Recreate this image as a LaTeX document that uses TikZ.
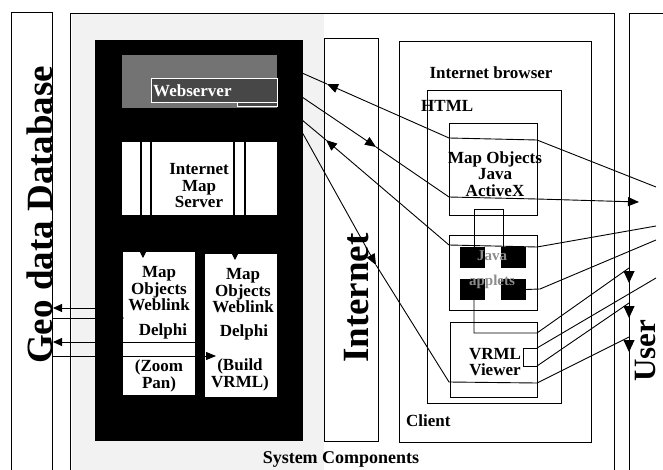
\documentclass[tikz,border=0pt]{standalone}
\usepackage{fontspec}
\setmainfont{Liberation Serif}
\usetikzlibrary{arrows.meta}
\tikzset{
  box/.style={draw, line width=0.9pt, inner sep=0pt, outer sep=0pt, anchor=north west},
  lbl/.style={font=\fontsize{17}{16.5}\selectfont\bfseries, align=center, inner sep=0pt},
  big/.style={font=\fontsize{37}{37}\selectfont\bfseries, inner sep=0pt, rotate=90, anchor=base west},
  wire/.style={line width=0.9pt},
  arr/.style={wire, -{Triangle[length=11pt,width=9pt]}},
  darr/.style={wire, -{Triangle[length=12pt,width=11pt]}},
  sarr/.style={wire, -{Triangle[length=9pt,width=8pt]}},
  tarr/.style={wire, -{Triangle[length=6pt,width=6pt]}},
  sq/.style={box, draw=none, fill=black, minimum width=25pt, minimum height=21pt},
}
\begin{document}
\begin{tikzpicture}[x=1pt,y=-1pt]
\useasboundingbox (0,0) rectangle (663,470);
\clip (0,0) rectangle (663,470);
\fill[white] (0,0) rectangle (663,470);
\fill[black!5] (72,14) rectangle (324,470);

% outer columns
\node[box, minimum width=41pt, minimum height=470pt] (db) at (11,12) {};
\node[box, minimum width=544pt, minimum height=470pt] (sys) at (70,13) {};
\node[box, minimum width=60pt, minimum height=470pt] (usr) at (629,13) {};
\node[big] (dbt) at (52,364) {Geo data Database};
\node[big, font=\fontsize{31}{31}\selectfont\bfseries] (usrt) at (655,382) {User};

% server block
\node[box, fill=black, minimum width=207pt, minimum height=400pt] (bb) at (95,40) {};
\node[box, draw=none, fill=black!55, minimum width=155pt, minimum height=53pt] (ws) at (122,55) {};
\node[box, draw=white!70, line width=0.6pt, fill=black!72, minimum width=126pt, minimum height=24pt] (wsin) at (151,78) {};
\node[box, draw=white!70, line width=0.6pt, fill=black!72, minimum width=40pt, minimum height=4pt] (wsmall) at (237,102) {};
\node[lbl, text=white, anchor=west] (wst) at (153,91) {Webserver};

\node[box, draw=none, fill=white, minimum width=155pt, minimum height=73pt] (ims) at (122,142) {};
\foreach \xx in {19,29,112,123}
  \draw[line width=1.6pt] ([xshift=\xx pt]ims.north west) -- ([xshift=\xx pt]ims.south west);
\node[lbl] (imst) at (199,186) {Internet\\Map\\Server};

\node[box, draw=none, fill=white, minimum width=72pt, minimum height=143pt] (wl1) at (123,252) {};
\node[box, draw=none, fill=white, minimum width=72pt, minimum height=143pt] (wl2) at (205,254) {};
\node[lbl] (wl1t) at (159,289) {Map\\Objects\\Weblink};
\node[lbl] (wl1d) at (163,331) {Delphi};
\node[lbl] (wl1z) at (159,376) {(Zoom\\Pan)};
\node[lbl] (wl2t) at (243,291) {Map\\Objects\\Weblink};
\node[lbl] (wl2d) at (244,332) {Delphi};
\node[lbl] (wl2b) at (240,375) {(Build\\VRML)};

% internet column
\node[box, fill=white, minimum width=54pt, minimum height=403pt] (inet) at (324,38) {};
\node[big] (inett) at (368,363) {Internet};

% client
\node[box, fill=white, minimum width=192pt, minimum height=401pt] (cl) at (399,41) {};
\node[lbl, anchor=west] (clt) at (406,421) {Client};
\node[lbl] (brt) at (491,73) {Internet browser};
\node[box, minimum width=134pt, minimum height=313pt] (html) at (427,90) {};
\node[lbl, anchor=west] (htmlt) at (421,106) {HTML};

\node[box, fill=white, minimum width=88pt, minimum height=92pt] (mo) at (449,123) {};
\node[lbl] (mot) at (495,174) {Map Objects\\Java\\ActiveX};
\node[box, fill=white, minimum width=88pt, minimum height=75pt] (ja) at (449,235) {};
\node[box, fill=white, minimum width=87pt, minimum height=75pt] (vr) at (450,322) {};
\node[box, minimum width=14pt, minimum height=18pt] (vs) at (523,348) {};
\node[lbl] (vrt) at (495,362) {VRML\\Viewer};

% connector between ActiveX and applets
\coordinate (k1) at (474,247);
\coordinate (k2) at (474,209);
\coordinate (k3) at (503,209);
\coordinate (k4) at (503,247);
\draw[wire] (k1) -- (k2) -- (k3) -- (k4);

% wires from webserver
\coordinate (w1) at (302,73);
\coordinate (w2) at (302,97);
\coordinate (w3) at (302,120);
\coordinate (w4) at (302,132);
\coordinate (m1) at (327,84);
\coordinate (m2) at (376,147);
\coordinate (m3) at (326,140);
\coordinate (m4) at (376,265);
\coordinate (a1) at (449,138);
\coordinate (b1) at (537,140);
\coordinate (u1) at (656,187);
\coordinate (a2) at (449,197);
\coordinate (b2) at (537,199);
\coordinate (u2) at (639,202);
\coordinate (a3) at (449,245);
\coordinate (b3) at (537,247);
\coordinate (u3) at (656,226);
\coordinate (a4) at (449,382);
\coordinate (b4) at (537,383);
\coordinate (e4) at (629,337);
\coordinate (t4) at (629,352);

\draw[arr] (u1) -- (b1) -- (a1) -- (m1);
\draw[wire] (m1) -- (w1);
\draw[arr] (w2) -- (m2);
\draw[arr] (m2) -- (a2) -- (b2) -- (u2);
\draw[arr] (u3) -- (b3) -- (a3) -- (m3);
\draw[wire] (m3) -- (w3);
\draw[arr] (w4) -- (m4);
\draw[wire] (m4) -- (a4) -- (b4) -- (e4);
\draw[darr] (e4) -- (t4);

% applet squares
\node[sq] (sq1) at (460,247) {};
\node[sq] (sq2) at (501,247) {};
\node[sq] (sq3) at (460,279) {};
\node[sq] (sq4) at (501,279) {};
\node[lbl, text=black!45, font=\fontsize{15}{25}\selectfont\bfseries] (jat) at (492,270) {Java\\applets};

% wires from applets and VRML viewer to user
\coordinate (d1) at (540,289);
\coordinate (d2) at (656,240);
\draw[wire] (sq4.east) -- (d1) -- (d2);
\coordinate (e1) at (474,333);
\coordinate (e2) at (537,333);
\coordinate (e3) at (629,268);
\coordinate (e5) at (629,283);
\draw[wire] (sq3.south -| e1) -- (e1) -- (e2) -- (e3);
\draw[darr] (e3) -- (e5);
\coordinate (f2) at (656,278);
\draw[wire] (vs.north east) -- (f2);
\coordinate (g2) at (629,303);
\coordinate (g3) at (629,318);
\draw[wire] (vs.south east) -- (g2);
\draw[darr] (g2) -- (g3);

% database links
\coordinate (l1) at (53,308);
\coordinate (l2) at (53,318);
\coordinate (l3) at (53,342);
\coordinate (l4) at (53,356);
\coordinate (r2) at (124,318);
\coordinate (r4) at (216,356);
\draw[sarr] (wl1.west |- l1) -- (l1);
\draw[wire, -{Triangle[length=4pt,width=5pt]}] (l2) -- (r2);
\draw[sarr] (wl2.west |- l3) -- (l3);
\draw[wire, -{Triangle[length=10pt,width=8pt]}] (l4) -- (r4);

% server internal arrows
\coordinate (i1) at (143,258);
\coordinate (i2) at (235,260);
\draw[tarr] (ims.south -| i1) -- (i1);
\draw[tarr] (ims.south -| i2) -- (i2);

\node[lbl, font=\fontsize{18}{18}\selectfont\bfseries] (sct) at (341,459) {System Components};
\end{tikzpicture}
\end{document}
